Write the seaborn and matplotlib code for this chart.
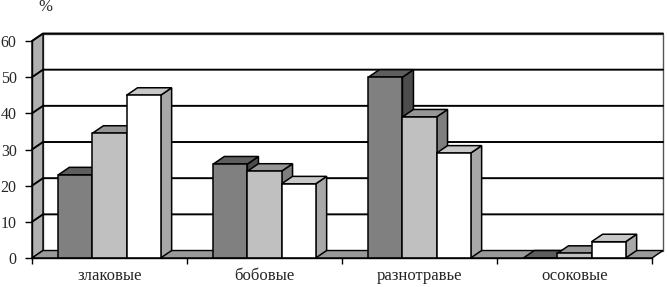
import matplotlib
matplotlib.use("Agg")

import matplotlib.pyplot as plt
from matplotlib.patches import Polygon, Rectangle
import pandas as pd
import seaborn as sns

CATEGORIES = ["злаковые", "бобовые", "разнотравье", "осоковые"]
SERIES = ["1", "2", "3"]
VALUES_1 = [23, 26, 50, 0]
VALUES_2 = [34.5, 24, 39, 1.3]
VALUES_3 = [45, 20.5, 29, 4.5]
Y_TICKS = [0, 10, 20, 30, 40, 50, 60]

FRONT = ["#808080", "#c0c0c0", "#ffffff"]
TOP = ["#5e5e5e", "#969696", "#c8c8c8"]
SIDE = ["#4c4c4c", "#7e7e7e", "#a8a8a8"]

DX = 11 / 155   # depth of the 3d box along x, category units
DY = 2.07       # depth along y, value units


def main():
    sns.set_theme(style="white")
    plt.rcParams["font.family"] = ["Liberation Serif", "DejaVu Serif"]

    rows = []
    for name, vals in zip(SERIES, [VALUES_1, VALUES_2, VALUES_3]):
        for cat, v in zip(CATEGORIES, vals):
            rows.append({"group": cat, "series": name, "value": v})
    df = pd.DataFrame(rows)

    fig = plt.figure(figsize=(6.67, 2.87), dpi=100)
    ax = fig.add_axes([32 / 667, 29 / 287, 620 / 667, 217 / 287])

    sns.barplot(data=df, x="group", y="value", hue="series", palette=FRONT,
                saturation=1, width=0.66, edgecolor="black", linewidth=1.1,
                legend=False, ax=ax)

    x0, x1 = -0.5, len(CATEGORIES) - 0.5
    ymax = Y_TICKS[-1]
    ax.set_xlim(x0, x1)
    ax.set_ylim(0, ymax)
    ax.patch.set_visible(False)

    # back wall, left wall, floor
    ax.add_patch(Rectangle((x0 + DX, DY), x1 - x0, ymax, facecolor="white",
                           edgecolor="#555555", lw=1.0, clip_on=False, zorder=0.5))
    ax.add_patch(Polygon([(x0, 0), (x0 + DX, DY), (x0 + DX, ymax + DY), (x0, ymax)],
                         facecolor="#b0b0b0", edgecolor="black", lw=1.0,
                         clip_on=False, zorder=1))
    ax.add_patch(Polygon([(x0, 0), (x1, 0), (x1 + DX, DY), (x0 + DX, DY)],
                         facecolor="#999999", edgecolor="black", lw=1.0,
                         clip_on=False, zorder=1.5))
    for v in Y_TICKS[1:]:
        ax.plot([x0, x0 + DX, x1 + DX], [v, v + DY, v + DY], color="black",
                lw=1.4, clip_on=False, zorder=1.2)

    # 3d look for the bars
    for j, cont in enumerate(ax.containers):
        for bar in cont:
            x, w, h = bar.get_x(), bar.get_width(), bar.get_height()
            z = 5 + 2 * j
            ax.add_patch(Polygon([(x + w, 0), (x + w + DX, DY), (x + w + DX, h + DY), (x + w, h)],
                                 facecolor=SIDE[j], edgecolor="black", lw=1.1,
                                 clip_on=False, zorder=z))
            ax.add_patch(Polygon([(x, h), (x + w, h), (x + w + DX, h + DY), (x + DX, h + DY)],
                                 facecolor=TOP[j], edgecolor="black", lw=1.1,
                                 clip_on=False, zorder=z))
            bar.set_zorder(z + 1)
            bar.set_clip_on(False)

    for side in ["top", "right"]:
        ax.spines[side].set_visible(False)
    for side in ["left", "bottom"]:
        ax.spines[side].set_color("black")
        ax.spines[side].set_linewidth(1.0)
        ax.spines[side].set_zorder(20)

    ax.set_yticks(Y_TICKS)
    ax.set_yticklabels([str(v) for v in Y_TICKS])
    ax.set_xticks(range(len(CATEGORIES)))
    ax.set_xticklabels(CATEGORIES)
    ax.set_xticks([x0 + i for i in range(len(CATEGORIES) + 1)], minor=True)
    ax.tick_params(axis="y", which="major", left=True, length=5, width=1.0,
                   pad=6, labelsize=11.5, color="black")
    ax.tick_params(axis="x", which="major", bottom=False, length=0, pad=7, labelsize=12)
    ax.tick_params(axis="x", which="minor", bottom=True, length=4, width=1.0, color="black")
    ax.set_xlabel("")
    ax.set_ylabel("")

    fig.text(45 / 667, 1 - 7 / 287, "%", fontsize=12, ha="center", va="center")

    fig.savefig("out.png", dpi=100, facecolor="white")
    plt.close(fig)


if __name__ == "__main__":
    main()
